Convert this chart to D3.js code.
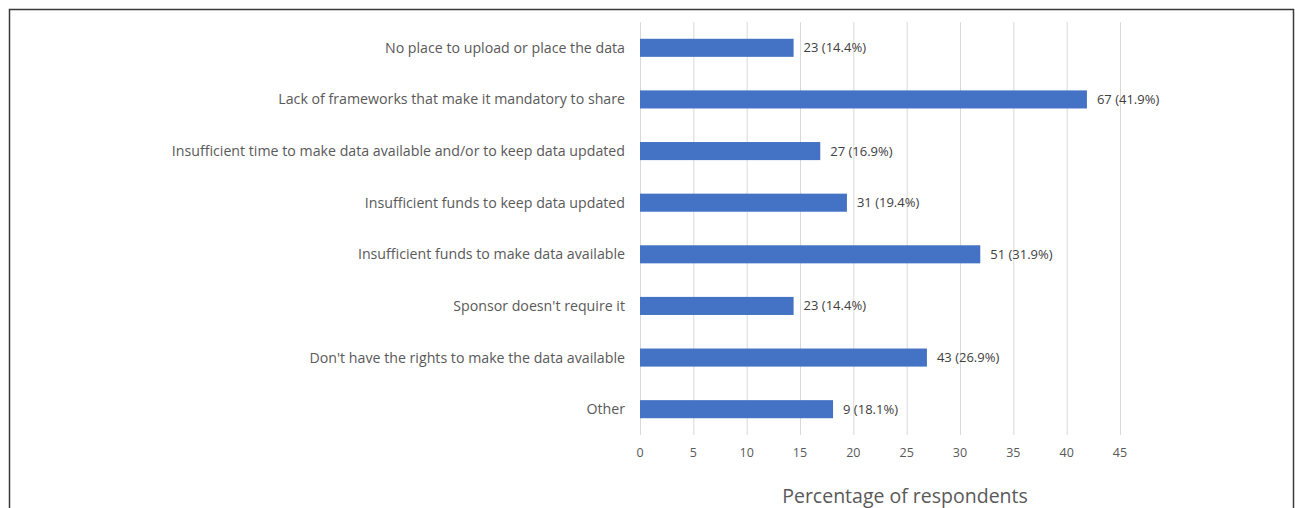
<!DOCTYPE html>
<html lang="en">
<head>
    <meta charset="UTF-8">
    <title>Barriers to sharing data</title>
    <script src="https://d3js.org/d3.v7.min.js"></script>
    <style>
        body {
            margin: 0;
            background: #fff;
            font-family: "Open Sans", sans-serif;
        }
    </style>
</head>
<body>
<script>
    // data
    const categories = [
        "No place to upload or place the data",
        "Lack of frameworks that make it mandatory to share",
        "Insufficient time to make data available and/or to keep data updated",
        "Insufficient funds to keep data updated",
        "Insufficient funds to make data available",
        "Sponsor doesn't require it",
        "Don't have the rights to make the data available",
        "Other"
    ]
    const counts = [23, 67, 27, 31, 51, 23, 43, 9]
    const percents = [14.4, 41.9, 16.9, 19.4, 31.9, 14.4, 26.9, 18.1]
    const ticks = [0, 5, 10, 15, 20, 25, 30, 35, 40, 45]
    const axisTitle = "Percentage of respondents"

    const width = 1295, height = 508
    const svg = d3.select("body").append("svg")
        .attr("width", width)
        .attr("height", height)

    // frame of the chart
    svg.append("path")
        .attr("d", `M9.5,${height} V9.5 H1293.5 V${height}`)
        .attr("fill", "none")
        .attr("stroke", "#3a3a3a")
        .attr("stroke-width", 1.5)

    const x = d3.scaleLinear().domain([0, 45]).range([640, 1120])
    const y = d3.scaleBand().domain(categories).range([22, 435]).paddingInner(0.65).paddingOuter(0.325)

    // gridlines
    svg.append("g")
        .selectAll("line")
        .data(ticks)
        .enter()
        .append("line")
        .attr("x1", d => x(d) + 0.5)
        .attr("x2", d => x(d) + 0.5)
        .attr("y1", 22)
        .attr("y2", 435)
        .attr("stroke", "#d9d9d9")
        .attr("stroke-width", 1)

    // tick labels
    svg.append("g")
        .selectAll("text")
        .data(ticks)
        .enter()
        .append("text")
        .attr("x", d => x(d))
        .attr("y", 457)
        .attr("text-anchor", "middle")
        .attr("font-size", 12.5)
        .attr("fill", "#595959")
        .text(d => d)

    const bars = categories.map((c, i) => ({cat: c, count: counts[i], pct: percents[i]}))

    svg.append("g")
        .selectAll("rect")
        .data(bars)
        .enter()
        .append("rect")
        .attr("x", x(0))
        .attr("y", d => y(d.cat))
        .attr("width", d => x(d.pct) - x(0))
        .attr("height", y.bandwidth())
        .attr("fill", "#4472c4")

    // category labels
    svg.append("g")
        .selectAll("text")
        .data(bars)
        .enter()
        .append("text")
        .attr("x", 625)
        .attr("y", d => y(d.cat) + y.bandwidth() / 2)
        .attr("dy", "0.35em")
        .attr("text-anchor", "end")
        .attr("font-size", 14.2)
        .attr("fill", "#595959")
        .text(d => d.cat)

    // value labels
    svg.append("g")
        .selectAll("text")
        .data(bars)
        .enter()
        .append("text")
        .attr("x", d => x(d.pct) + 10)
        .attr("y", d => y(d.cat) + y.bandwidth() / 2)
        .attr("dy", "0.35em")
        .attr("font-size", 13)
        .attr("fill", "#404040")
        .text(d => `${d.count} (${d.pct.toFixed(1)}%)`)

    svg.append("text")
        .attr("x", 905)
        .attr("y", 503)
        .attr("text-anchor", "middle")
        .attr("font-size", 19.5)
        .attr("fill", "#595959")
        .text(axisTitle)
</script>
</body>
</html>
